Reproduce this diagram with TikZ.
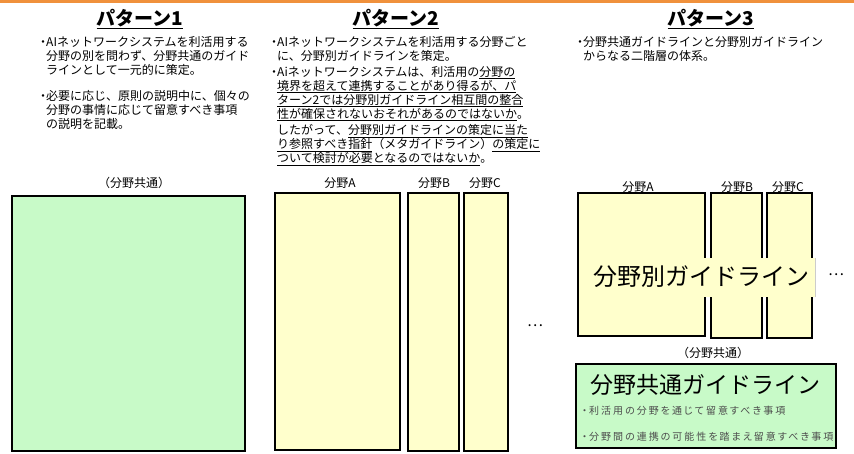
\documentclass[tikz,border=0pt]{standalone}
\usepackage{fontspec}
\setmainfont{Noto Sans CJK JP}
\newfontfamily\jpprop{Noto Sans CJK JP}[RawFeature=+palt]
\usetikzlibrary{positioning}

\definecolor{barorange}{RGB}{240,145,60}
\definecolor{commongreen}{RGB}{200,250,200}
\definecolor{sectoryellow}{RGB}{255,255,204}

\newcommand\dotmark{{\jpprop ・}}
\newcommand\hang{\phantom{\dotmark}}

\tikzset{
  patterntitle/.style={font=\bfseries\fontsize{19}{22}\selectfont, inner sep=0pt},
  note/.style={font=\fontsize{12}{14}\selectfont, align=left, anchor=north west, inner sep=0pt},
  fieldlabel/.style={font=\fontsize{12}{13}\selectfont, inner sep=1pt},
  field/.style={draw=black, line width=2.2pt},
  common/.style={field, fill=commongreen},
  sector/.style={field, fill=sectoryellow},
  bigname/.style={font=\fontsize{23}{26}\selectfont, inner sep=0pt},
  itemline/.style={font=\jpprop\fontsize{10}{12}\selectfont\addfontfeatures{LetterSpace=20}, text=black!70, anchor=west, inner sep=0pt}
}

\begin{document}
\begin{tikzpicture}[x=1pt, y=-1pt]
\useasboundingbox (0,0) rectangle (854,454);

% Orange rule at the top
\draw[barorange, line width=3pt] (0,1.5) -- (854,1.5);

% Pattern 1
\node[patterntitle] (p1) at (140,19) {\underline{パターン1}};
\node[note] (p1a) at (40,36) {\dotmark AIネットワークシステムを利活用する\\
\hang 分野の別を問わず、分野共通のガイド\\
\hang ラインとして一元的に策定。};
\node[note] (p1b) at (40,90) {\dotmark 必要に応じ、原則の説明中に、個々の\\
\hang 分野の事情に応じて留意すべき事項\\
\hang の説明を記載。};
\node[fieldlabel] (p1l) at (134,183) {（分野共通）};
\draw[common] (12,196) rectangle (245,451);

% Pattern 2
\node[patterntitle] (p2) at (396,19) {\underline{パターン2}};
\node[note] (p2a) at (271,36) {\dotmark AIネットワークシステムを利活用する分野ごと\\
\hang に、分野別ガイドラインを策定。};
\node[note] (p2b) at (271,66) {\dotmark Aiネットワークシステムは、利活用の\underline{分野の}\\
\hang\underline{境界を超えて連携することがあり得るが、パ}\\
\hang\underline{ターン2では分野別ガイドライン相互間の整合}\\
\hang\underline{性が確保されないおそれがあるのではないか}。};
\node[note] (p2c) at (271,124) {\hang したがって、\underline{分野別ガイドラインの策定に当た}\\
\hang\underline{り参照すべき指針}（メタガイドライン）\underline{の策定に}\\
\hang\underline{ついて検討が必要となるのではないか}。};
\node[fieldlabel] (p2la) at (340,183) {分野A};
\node[fieldlabel] (p2lb) at (434,183) {分野B};
\node[fieldlabel] (p2lc) at (485,183) {分野C};
\draw[sector] (275,193) rectangle (400,450);
\draw[sector] (408,193) rectangle (459,451);
\draw[sector] (464,193) rectangle (508,451);
\node[fieldlabel, font=\fontsize{15}{16}\selectfont] (p2dots) at (535,326) {…};

% Pattern 3
\node[patterntitle] (p3) at (711,19) {\underline{パターン3}};
\node[note] (p3a) at (577,36) {\dotmark 分野共通ガイドラインと分野別ガイドライン\\
\hang からなる二階層の体系。};
\node[fieldlabel] (p3la) at (638,187) {分野A};
\node[fieldlabel] (p3lb) at (737,187) {分野B};
\node[fieldlabel] (p3lc) at (788,187) {分野C};
\draw[sector] (578,193) rectangle (705,336);
\draw[sector] (711,193) rectangle (762,338);
\draw[sector] (767,193) rectangle (812,338);
\fill[sectoryellow] (592,258) rectangle (815,297);
\draw[black!20] (815,258) -- (815,297);
\node[bigname, font=\fontsize{24}{27}\selectfont] (p3sec) at (701,277) {分野別ガイドライン};
\node[fieldlabel, font=\fontsize{15}{16}\selectfont] (p3dots) at (836,275) {…};

\node[fieldlabel] (p3l) at (713,353) {（分野共通）};
\draw[common] (576,364) rectangle (836,448);
\node[bigname] (p3com) at (705,385) {分野共通ガイドライン};
\node[itemline] (p3i) at (582,411) {・利活用の分野を通じて留意すべき事項};
\node[itemline] (p3j) at (582,437) {・分野間の連携の可能性を踏まえ留意すべき事項};

\end{tikzpicture}
\end{document}
